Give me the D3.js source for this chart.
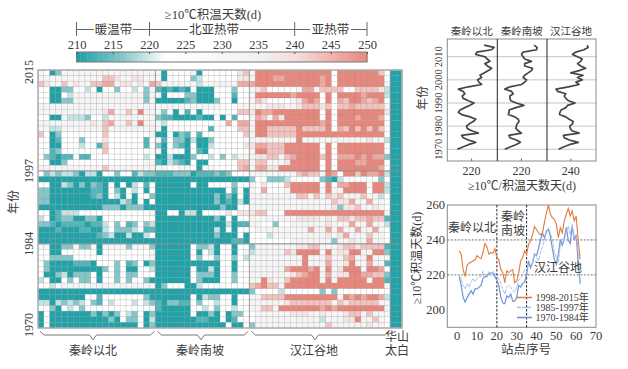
<!DOCTYPE html>
<html lang="en">
<head>
<meta charset="UTF-8">
<title>积温天数</title>
<script src="https://d3js.org/d3.v7.min.js"></script>
<style>
    html, body { margin: 0; padding: 0; background: #fff; }
    text { font-family: "Liberation Serif", "Noto Sans CJK SC", serif; fill: #3a3a3a; font-size: 12px; }
</style>
</head>
<body>
<script>
// heat map rows run from 2015 down to 1970, one digit per station, digit = index into levelDays
const levelDays = [210, 213, 216, 219, 222, 232, 238, 243, 246, 250];
const years = d3.range(2015, 1969, -1);
const heatNorth = [
"54025555555555555555","55555555555776556655","76557565577885665658","44002244340442443425",
"44004355555555555525","44002255555555555525","55555555555555555555","55555555555685575955",
"44005333244355555555","55555555565785575955","55335555555755555555","74024444444744444445",
"44014442444644444414","44004443441744444414","44124444444744444444","42101141144444444434",
"44002444444444444455","55555555555755555555","42323320330442441322","00000000000000000000",
"44003202021040403414","22000000011042043404","22000000012043040442","22000000000000320404",
"00000000000222022200","44013334444444444445","34012200220444444444","22101111011342412423",
"00010001100342223411","00000000001230030034","00000000000000000000","55002252250555525552",
"44004444440444444445","44222244444444444445","42000011104442412402","42000000000242400443",
"40023022240442422444","34004242240442424420","44345555555555555555","00000000000000000000",
"00000000441444444420","33032323421434443432","44204342444444444445","04000000020202432402",
"04000000000020422403","04000000000000000402"];
const heatSouth = [
"5044445044444467","5044442344444466","7555555355555588","1010104000444244",
"5044422000444144","0000012000244044","5555555555544455","5240414044444477",
"2110000100404144","5344444444448488","5044444441444477","0040214144444447",
"5142203002444444","2042104003444446","5044404104444444","0030002443424355",
"1032104004444477","5544554055444478","1112220111212444","0000000000000000",
"0000004004444244","0000000000004140","0000000000202040","0000000000201030",
"0000000000020044","0044033044446466","0000000000204044","0000000000003011",
"0000000000304044","0000000000200040","0000000000000110","0000004223044044",
"0000004043044045","0000004244244243","0000000000044044","0000004003044044",
"0000004222044244","0000004200044244","0244400344444444","0000000000000000",
"0000004032244044","1022114244344044","1000004434244344","0000004002040224",
"0000000110040144","0000000000004004"];
const heatHan = [
"599999999999994999999974","599988999999894999999994","899999999999894999999995","567444445885777744777763",
"599999989999494999989993","576444456898494879987894","555666556777674778777775","698899999999494999999996",
"587586999999494999899984","599999999999894999999994","599777779777794879797974","599777779999999999999994",
"555555559555555555556553","688777999999494999999994","599777999999494999999994","566775789999794888989882",
"577555699999494999889994","588669999999494999999984","555555557877598499798893","244222344444210344444424",
"546444799999494889994993","548444599999595599994993","555555557757576755575534","555555555555557668558554",
"555555555555556266755654","677444999999999999999995","555555556666565776778771","554424455555565558558553",
"455555555585585855855854","444355555555565685557554","444444455555552556558554","255555556677555677677771",
"355555769999595669955992","555555555955575578559555","555555555955585569558551","555555899989595699959984",
"555555567899585669988772","559655799999595999995991","789775999999999999999995","244443444444242444444444",
"557777999999999598989983","555555677777775767777755","557759999999898999999995","455555566655655567757555",
"455555555555355566955754","255555555555575555556554"];
const heatPeak = d3.range(46).map(() => "00");

// station means 1970-2015 for the three regions
const seriesNorth = [214.7,216.7,218.8,221.5,218.8,216.9,216.3,222.5,220,218.4,218.1,219.1,220.6,221.6,219.4,216.3,215.1,215.7,217.5,219.4,220.9,218.8,216.9,216.5,217.5,216.9,215.1,218.8,223.7,222.7,222.2,223.7,223.1,224.6,226.2,227.4,225.8,224.9,226.8,225.8,224.9,221.5,221.9,227.4,228.3,224.6];
const seriesSouth = [213.8,215.7,217.9,219.6,218.1,215.7,215.3,220,218.8,217.9,218.1,218.4,219.1,218.8,217.5,215.1,215.4,215.4,217.9,220.9,218.1,216,215.7,215.7,216.9,216.3,213.8,215.7,220,221.2,221.9,220.6,221.2,222.5,223.7,224.1,221.2,221.2,223.7,221.2,220.6,220,220.6,225.6,225.8,224.7];
const seriesHan = [235.4,237.2,239.4,242.8,239.4,237.5,237.2,243.1,240.4,239.8,239.6,240.6,240.9,239.4,238.1,235.7,235.9,236.3,238.1,238.8,241.6,239.1,238.1,237.5,238.1,235.1,234.4,239.1,243.1,241.9,244.3,242.5,244.6,240,243.1,245.6,243.7,242.5,243.7,244.3,242.5,240.6,241.9,244.9,246.5,246.2];

// per station means by period, stations 1-62
const stations = d3.range(1, 63);
const period1998 = [233.7,231.8,223,219,225.5,226.7,227.4,228,228.6,231,230,229.3,232.8,238,236,231.8,232.8,232.4,235,230,228.6,223,221.3,215.6,222.3,221.3,222.3,223,215.6,216.6,221,228,230,233.7,231.8,237.5,239.4,243,247.6,246,244,243,244,250,255.6,260,254.7,252.8,251.8,249,241.3,247,244,250.9,254.7,258,253.7,256.6,250.9,253.7,240,229];
const period1985 = [220,218,214,212,215,213,216,218,216,218,219,219,222,220,219,222,220,222,221,219,218,215,212,209,213,214,213,211,210,213,217,218,220,223,222,227,226,226,232,231,228,233,236,240,244,247,244,240,233,230,227,237,241,239,245,248,243,249,241,243,233,215];
const period1970 = [219,214,207,204.5,207,209,211,209,212,212,213,214,218,219,219,221,221,221,219,217,214,207,204,203.5,208,207,209,205,205,207,214,213,215,216,220,228,224,227,232,231,235,240,244,241,245,246,242,235,229,226,232,240,237,241,247,240,238,248,240,243,227,215];

const legendTicks = [210, 215, 220, 225, 230, 235, 240, 245, 250];

const svg = d3.select("body").append("svg").attr("width", 628).attr("height", 369).style("display", "block");

const color = d3.scaleLinear()
    .domain([210, 216, 220, 222, 235, 240, 250])
    .range(["#1fa3a9", "#85c6c9", "#d6ebec", "#ffffff", "#f2f2f2", "#f6dcda", "#e9867b"]);

// ---------- heat map ----------
const heatX = d3.scaleBand().domain(d3.range(62)).range([38, 402]);
const heatY = d3.scaleBand().domain(years).range([70, 328]);

const cells = [];
years.forEach((yr, r) => {
    const codes = heatNorth[r] + heatSouth[r] + heatHan[r] + heatPeak[r];
    codes.split("").forEach((c, i) => cells.push({ yr, i, days: levelDays[+c] }));
});

svg.append("g").selectAll("rect").data(cells).enter().append("rect")
    .attr("x", d => heatX(d.i))
    .attr("y", d => heatY(d.yr))
    .attr("width", heatX.bandwidth())
    .attr("height", heatY.bandwidth())
    .attr("fill", d => color(d.days))
    .attr("stroke", "rgba(120,120,120,0.32)")
    .attr("stroke-width", 0.5);

// region and period dividers
[20, 36, 60].forEach(c => {
    svg.append("line").attr("x1", heatX(c)).attr("x2", heatX(c)).attr("y1", 70).attr("y2", 328)
        .attr("stroke", "#909090").attr("stroke-width", 0.8);
});
[1997, 1984].forEach(yr => {
    svg.append("line").attr("x1", 38).attr("x2", 402).attr("y1", heatY(yr)).attr("y2", heatY(yr))
        .attr("stroke", "#909090").attr("stroke-width", 1);
});
svg.append("rect").attr("x", 38).attr("y", 70).attr("width", 364).attr("height", 258)
    .attr("fill", "none").attr("stroke", "#adadad").attr("stroke-width", 1.5);

[2015, 1997, 1984, 1970].forEach(yr => {
    const cy = yr === 2015 ? 72 : yr === 1970 ? 325 : heatY(yr);
    svg.append("text").attr("transform", `translate(33,${cy}) rotate(-90)`)
        .attr("text-anchor", "middle").text(yr);
});
svg.append("text").attr("transform", "translate(18,202) rotate(-90)")
    .attr("text-anchor", "middle").text("年份");

// ---------- colour legend ----------
const legendX = d3.scaleLinear().domain([210, 250]).range([76.5, 367]);
svg.append("g").selectAll("rect").data(d3.range(210, 250, 0.5)).enter().append("rect")
    .attr("x", d => legendX(d))
    .attr("y", 52)
    .attr("width", legendX(210.5) - legendX(210) + 0.4)
    .attr("height", 10)
    .attr("fill", d => color(d));
svg.append("rect").attr("x", 76.5).attr("y", 52).attr("width", 290.5).attr("height", 10)
    .attr("fill", "none").attr("stroke", "#777").attr("stroke-width", 1);
const legendAxis = svg.append("g").attr("transform", "translate(0,52)")
    .call(d3.axisTop(legendX).tickValues(legendTicks).tickSize(-2).tickPadding(3));
legendAxis.select(".domain").remove();
legendAxis.selectAll("line").attr("stroke", "#555");
legendAxis.selectAll("text").style("font-size", "12.5px").style("font-family", null).attr("fill", null);

svg.append("text").attr("x", 213).attr("y", 19).attr("text-anchor", "middle").style("font-size", "12.5px").text("≥10℃积温天数(d)");

const beltY = 29.5;
const beltMarks = [76.5, 149.5, 294.7, 367];
beltMarks.forEach(x => {
    svg.append("line").attr("x1", x).attr("x2", x).attr("y1", 22).attr("y2", 36).attr("stroke", "#666");
});
[[76.5, 94], [133, 188], [240, 310], [351, 367]].forEach(s => {
    svg.append("line").attr("x1", s[0]).attr("x2", s[1]).attr("y1", beltY).attr("y2", beltY).attr("stroke", "#666");
});
[["暖温带", 113.5], ["北亚热带", 214], ["亚热带", 330.5]].forEach(b => {
    svg.append("text").attr("x", b[1]).attr("y", 34).attr("text-anchor", "middle").style("font-size", "12.5px").text(b[0]);
});

// ---------- braces under the heat map ----------
const brace = d3.line();
function drawBrace(c0, c1, mid) {
    const a = heatX(c0) + 2, b = heatX(c1) + heatX.bandwidth() - 1, y0 = 331.3, y1 = 335, y2 = 339.7;
    svg.append("path")
        .attr("d", brace([[a, y0], [a + 4, y1], [mid - 3.5, y1], [mid, y2], [mid + 3.5, y1], [b - 4, y1], [b, y0]]))
        .attr("fill", "none").attr("stroke", "#555").attr("stroke-width", 0.8);
}
drawBrace(0, 19, 93);
drawBrace(20, 35, 201);
drawBrace(36, 59, 315);
[["秦岭以北", 93], ["秦岭南坡", 200], ["汉江谷地", 314]].forEach(b => {
    svg.append("text").attr("x", b[1]).attr("y", 355).attr("text-anchor", "middle").text(b[0]);
});
svg.append("text").attr("x", 397).attr("y", 341).attr("text-anchor", "middle").text("华山");
svg.append("text").attr("x", 397).attr("y", 355).attr("text-anchor", "middle").text("太白");

// ---------- three region profiles ----------
const yearY = d3.scaleLinear().domain([1970, 2010]).range([149.3, 56.7]);
const yearsUp = d3.range(1970, 2016);
const decades = [1970, 1980, 1990, 2000, 2010];
const panels = [
    { name: "秦岭以北", values: seriesNorth, tick: 220, left: 447.3, right: 497.3 },
    { name: "秦岭南坡", values: seriesSouth, tick: 220, left: 497.3, right: 547 },
    { name: "汉江谷地", values: seriesHan, tick: 240, left: 547, right: 596 }
];
decades.forEach(yr => {
    svg.append("line").attr("x1", 447.3).attr("x2", 596).attr("y1", yearY(yr)).attr("y2", yearY(yr))
        .attr("stroke", "#aaa").attr("stroke-width", 0.7);
    svg.append("text").attr("transform", `translate(442,${yearY(yr)}) rotate(-90)`)
        .attr("text-anchor", "middle").style("font-size", "10.5px").text(yr);
});
panels.forEach(p => {
    const cx = (p.left + p.right) / 2;
    const x = d3.scaleLinear().domain([p.tick - 9, p.tick + 9.5]).range([p.left, p.right]);
    const line = d3.line().x(d => x(d)).y((d, i) => yearY(yearsUp[i]));
    svg.append("path").attr("d", line(p.values)).attr("fill", "none")
        .attr("stroke", "#454545").attr("stroke-width", 1.7).attr("stroke-linejoin", "round");
    svg.append("text").attr("x", cx - 0.5).attr("y", 35).attr("text-anchor", "middle").style("font-size", "10.5px").text(p.name);
    svg.append("line").attr("x1", x(p.tick)).attr("x2", x(p.tick)).attr("y1", 161).attr("y2", 158.5).attr("stroke", "#666");
    svg.append("text").attr("x", x(p.tick)).attr("y", 175).attr("text-anchor", "middle").text(p.tick);
});
svg.append("rect").attr("x", 447.3).attr("y", 39).attr("width", 148.7).attr("height", 122)
    .attr("fill", "none").attr("stroke", "#8a8a8a");
[497.3, 547].forEach(x => {
    svg.append("line").attr("x1", x).attr("x2", x).attr("y1", 39).attr("y2", 161).attr("stroke", "#222").attr("stroke-width", 1);
});
svg.append("text").attr("transform", "translate(427,98) rotate(-90)").attr("text-anchor", "middle").text("年份");
svg.append("text").attr("x", 522).attr("y", 190).attr("text-anchor", "middle").text("≥10℃/积温天数天(d)");

// ---------- station means chart ----------
const stX = d3.scaleLinear().domain([-5, 70]).range([447.3, 596]);
const stY = d3.scaleLinear().domain([190, 260]).range([327.3, 205]);
svg.append("rect").attr("x", 447.3).attr("y", 205).attr("width", 148.7).attr("height", 122.3)
    .attr("fill", "none").attr("stroke", "#8a8a8a");
[240, 220].forEach(v => {
    svg.append("line").attr("x1", 447.3).attr("x2", 596).attr("y1", stY(v)).attr("y2", stY(v))
        .attr("stroke", "#333").attr("stroke-width", 0.7).attr("stroke-dasharray", "2,1.5");
});
[20, 35].forEach(v => {
    svg.append("line").attr("x1", stX(v)).attr("x2", stX(v)).attr("y1", 205).attr("y2", 327.3)
        .attr("stroke", "#111").attr("stroke-width", 0.9).attr("stroke-dasharray", "2.5,1.5");
});
const stLine = d3.line().x((d, i) => stX(stations[i])).y(d => stY(d));
const periods = [
    { label: "1998-2015年", values: period1998, stroke: "#e27a3d", width: 1.1, dash: null, ly: 297.5 },
    { label: "1985-1997年", values: period1985, stroke: "#a9c0ea", width: 1, dash: "4,1", ly: 307.5 },
    { label: "1970-1984年", values: period1970, stroke: "#6f93d8", width: 1.2, dash: null, ly: 317.5 }
];
periods.slice().reverse().forEach(p => {
    svg.append("path").attr("d", stLine(p.values)).attr("fill", "none")
        .attr("stroke", p.stroke).attr("stroke-width", p.width).attr("stroke-dasharray", p.dash);
});
periods.forEach(p => {
    svg.append("line").attr("x1", 517).attr("x2", 532).attr("y1", p.ly).attr("y2", p.ly)
        .attr("stroke", p.stroke).attr("stroke-width", p.width + 0.4).attr("stroke-dasharray", p.dash);
    svg.append("text").attr("x", 535.5).attr("y", p.ly + 3.5).style("font-size", "10px").text(p.label);
});
[200, 220, 240, 260].forEach(v => {
    svg.append("text").attr("x", 445).attr("y", stY(v) + 4).attr("text-anchor", "end").style("font-size", "12.5px").text(v);
});
[0, 10, 20, 30, 40, 50, 60, 70].forEach(v => {
    svg.append("text").attr("x", stX(v)).attr("y", 340).attr("text-anchor", "middle").style("font-size", "12.5px").text(v);
});
svg.append("text").attr("x", 526).attr("y", 354).attr("text-anchor", "middle").style("font-size", "12.5px").text("站点序号");
svg.append("text").attr("transform", "translate(421,258) rotate(-90)").attr("text-anchor", "middle").text("≥10℃积温天数(d)");
[["秦岭以北", 472, 232], ["秦岭", 513, 221], ["南坡", 513, 235], ["汉江谷地", 558, 272]].forEach(a => {
    svg.append("text").attr("x", a[1]).attr("y", a[2]).attr("text-anchor", "middle").text(a[0]);
});
</script>
</body>
</html>
